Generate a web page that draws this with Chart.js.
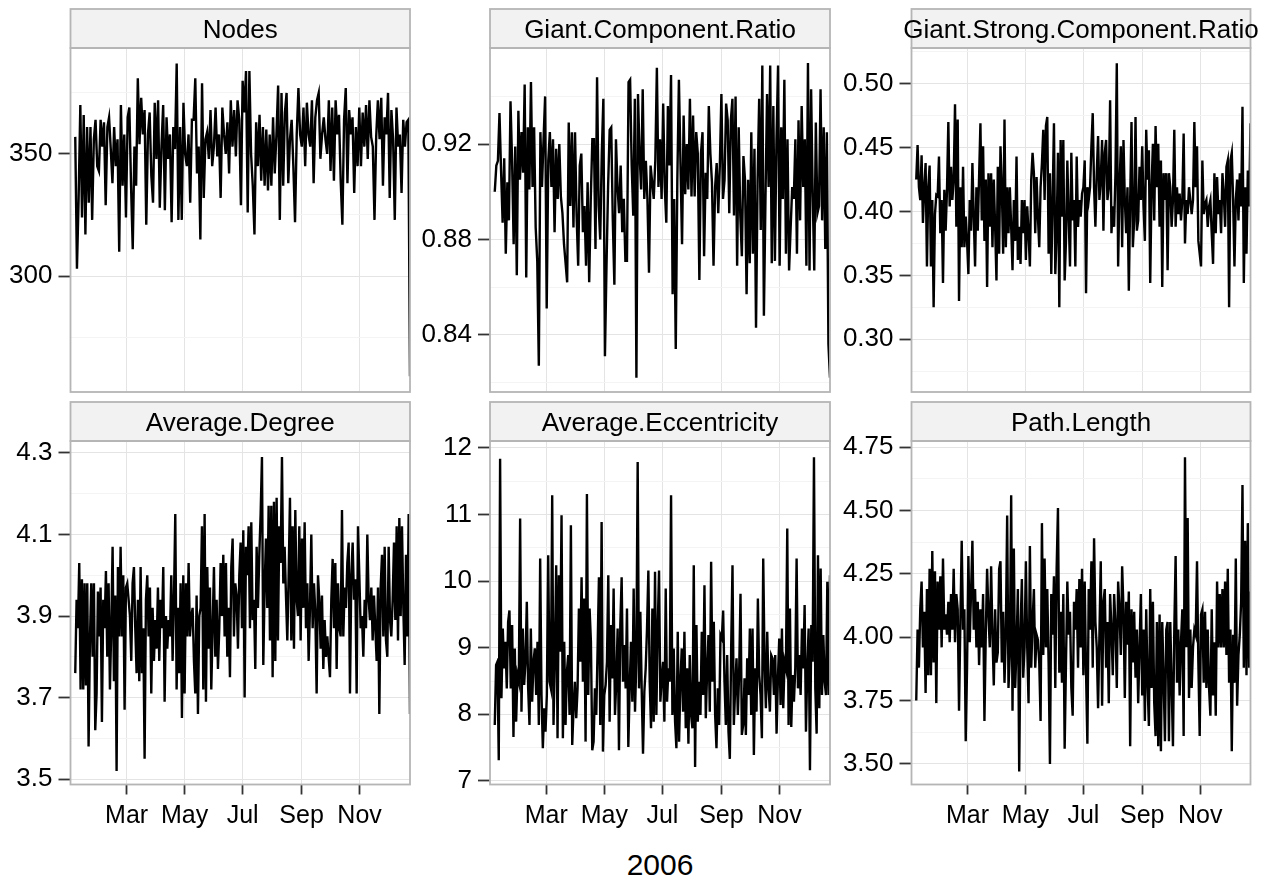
<!DOCTYPE html>
<html>
<head>
<meta charset="utf-8">
<title>Network statistics 2006</title>
<script src="https://cdn.jsdelivr.net/npm/chart.js@4.4.1/dist/chart.umd.min.js"></script>
<style>
  html, body { margin: 0; padding: 0; background: #fff; }
  #wrap { position: relative; width: 1286px; height: 881px; overflow: hidden; }
  #wrap canvas { position: absolute; }
  #xtitle { position: absolute; left: 560px; width: 200px; top: 847px; text-align: center;
            font: 30px "Liberation Sans", Arial, sans-serif; line-height: 36px; color: #000; }
</style>
</head>
<body>
<div id="wrap">
  <div id="xtitle">2006</div>
</div>
<script>
// x axis: day of year 2006, month ticks
const monthDays = [59, 120, 181, 243, 304];
const monthLabels = ["Mar", "May", "Jul", "Sep", "Nov"];
const firstDay = 5, lastDay = 357;

const nodes = [357, 303, 332, 370, 324, 366, 317, 361, 330, 361, 323, 356, 364, 345, 343, 364, 353, 363, 329, 361, 365, 352, 338, 361, 345, 356, 310, 370, 337, 358, 324, 365, 369, 337, 311, 353, 337, 381, 354, 373, 358, 368, 321, 358, 367, 341, 330, 371, 348, 372, 328, 353, 370, 327, 365, 348, 358, 322, 361, 352, 387, 323, 361, 323, 371, 350, 345, 358, 330, 364, 364, 381, 342, 353, 315, 379, 332, 356, 359, 348, 368, 345, 353, 369, 349, 358, 332, 369, 358, 350, 363, 342, 372, 353, 368, 349, 372, 364, 329, 380, 367, 384, 326, 384, 350, 337, 317, 363, 345, 366, 339, 361, 337, 360, 335, 358, 337, 365, 342, 358, 378, 323, 375, 337, 367, 375, 338, 356, 364, 345, 322, 358, 377, 358, 353, 369, 345, 371, 358, 353, 372, 338, 365, 372, 375, 348, 358, 365, 356, 350, 372, 343, 369, 339, 372, 358, 366, 339, 321, 364, 377, 338, 368, 358, 365, 334, 361, 345, 369, 345, 367, 353, 370, 348, 372, 357, 353, 323, 357, 372, 356, 373, 337, 365, 358, 375, 332, 368, 356, 323, 369, 353, 358, 334, 364, 353, 363, 364, 259];

const giantRatio = [0.900, 0.911, 0.913, 0.933, 0.909, 0.887, 0.914, 0.874, 0.904, 0.888, 0.938, 0.913, 0.878, 0.919, 0.865, 0.934, 0.905, 0.925, 0.908, 0.945, 0.864, 0.927, 0.901, 0.946, 0.902, 0.927, 0.885, 0.871, 0.827, 0.925, 0.902, 0.922, 0.940, 0.851, 0.913, 0.925, 0.902, 0.922, 0.883, 0.918, 0.897, 0.920, 0.898, 0.891, 0.878, 0.870, 0.862, 0.929, 0.894, 0.925, 0.885, 0.925, 0.890, 0.869, 0.911, 0.916, 0.883, 0.894, 0.869, 0.904, 0.862, 0.897, 0.922, 0.922, 0.876, 0.948, 0.894, 0.880, 0.916, 0.939, 0.831, 0.869, 0.902, 0.926, 0.927, 0.888, 0.861, 0.922, 0.902, 0.891, 0.911, 0.883, 0.897, 0.871, 0.871, 0.946, 0.947, 0.911, 0.890, 0.939, 0.822, 0.941, 0.916, 0.901, 0.943, 0.897, 0.913, 0.897, 0.866, 0.911, 0.904, 0.897, 0.913, 0.952, 0.902, 0.922, 0.897, 0.937, 0.902, 0.887, 0.936, 0.911, 0.949, 0.857, 0.897, 0.834, 0.905, 0.947, 0.912, 0.878, 0.932, 0.899, 0.920, 0.901, 0.939, 0.898, 0.932, 0.898, 0.925, 0.916, 0.863, 0.916, 0.925, 0.873, 0.908, 0.897, 0.936, 0.916, 0.904, 0.869, 0.902, 0.912, 0.891, 0.911, 0.941, 0.897, 0.905, 0.937, 0.930, 0.891, 0.930, 0.939, 0.890, 0.940, 0.869, 0.927, 0.890, 0.873, 0.915, 0.905, 0.857, 0.905, 0.870, 0.925, 0.874, 0.918, 0.843, 0.905, 0.939, 0.884, 0.953, 0.848, 0.897, 0.941, 0.902, 0.953, 0.870, 0.936, 0.871, 0.922, 0.953, 0.869, 0.927, 0.897, 0.947, 0.874, 0.922, 0.867, 0.885, 0.902, 0.897, 0.922, 0.874, 0.930, 0.888, 0.936, 0.902, 0.922, 0.869, 0.954, 0.867, 0.943, 0.899, 0.867, 0.929, 0.891, 0.894, 0.943, 0.888, 0.927, 0.876, 0.925, 0.836, 0.822];

const giantStrongRatio = [0.425, 0.452, 0.419, 0.409, 0.444, 0.391, 0.419, 0.438, 0.357, 0.419, 0.436, 0.357, 0.409, 0.325, 0.398, 0.413, 0.412, 0.443, 0.383, 0.409, 0.344, 0.417, 0.385, 0.417, 0.470, 0.404, 0.435, 0.409, 0.425, 0.484, 0.388, 0.472, 0.330, 0.419, 0.372, 0.435, 0.372, 0.396, 0.377, 0.351, 0.409, 0.385, 0.438, 0.396, 0.357, 0.419, 0.385, 0.427, 0.469, 0.393, 0.451, 0.377, 0.425, 0.341, 0.430, 0.388, 0.430, 0.372, 0.425, 0.388, 0.346, 0.435, 0.367, 0.451, 0.419, 0.367, 0.472, 0.372, 0.419, 0.383, 0.419, 0.388, 0.354, 0.409, 0.377, 0.443, 0.362, 0.388, 0.359, 0.409, 0.383, 0.409, 0.362, 0.404, 0.383, 0.357, 0.425, 0.446, 0.430, 0.383, 0.427, 0.396, 0.372, 0.419, 0.438, 0.464, 0.409, 0.467, 0.474, 0.367, 0.430, 0.351, 0.409, 0.469, 0.351, 0.383, 0.446, 0.325, 0.456, 0.396, 0.456, 0.346, 0.377, 0.440, 0.396, 0.357, 0.446, 0.393, 0.409, 0.357, 0.443, 0.388, 0.409, 0.396, 0.414, 0.419, 0.440, 0.336, 0.419, 0.409, 0.419, 0.451, 0.477, 0.419, 0.388, 0.430, 0.459, 0.409, 0.425, 0.456, 0.385, 0.446, 0.456, 0.409, 0.419, 0.487, 0.383, 0.404, 0.388, 0.430, 0.516, 0.357, 0.419, 0.451, 0.372, 0.456, 0.409, 0.383, 0.419, 0.338, 0.409, 0.470, 0.372, 0.393, 0.474, 0.385, 0.393, 0.435, 0.409, 0.451, 0.404, 0.377, 0.464, 0.425, 0.448, 0.344, 0.419, 0.453, 0.393, 0.467, 0.419, 0.453, 0.388, 0.440, 0.341, 0.430, 0.409, 0.430, 0.354, 0.430, 0.419, 0.388, 0.409, 0.464, 0.388, 0.419, 0.398, 0.414, 0.393, 0.409, 0.461, 0.375, 0.409, 0.398, 0.419, 0.409, 0.398, 0.409, 0.470, 0.419, 0.451, 0.377, 0.367, 0.357, 0.440, 0.398, 0.406, 0.409, 0.388, 0.404, 0.409, 0.383, 0.359, 0.430, 0.383, 0.427, 0.398, 0.409, 0.383, 0.430, 0.414, 0.388, 0.435, 0.440, 0.325, 0.440, 0.446, 0.409, 0.357, 0.409, 0.425, 0.393, 0.430, 0.404, 0.482, 0.344, 0.419, 0.367, 0.432, 0.404, 0.469];

const avgDegree = [3.76, 3.94, 3.87, 4.03, 3.72, 3.99, 3.72, 3.98, 3.73, 3.98, 3.58, 3.84, 3.98, 3.80, 3.98, 3.62, 3.71, 3.96, 3.85, 3.97, 3.64, 3.94, 3.87, 4.01, 3.80, 3.98, 3.72, 3.87, 4.07, 3.74, 3.95, 3.52, 4.02, 3.85, 4.07, 3.85, 4.00, 3.67, 3.97, 3.98, 3.94, 3.90, 3.79, 3.98, 4.02, 3.87, 3.76, 3.94, 3.74, 4.02, 3.76, 3.87, 3.55, 3.94, 4.00, 3.85, 3.97, 3.71, 3.92, 3.79, 3.89, 3.82, 3.97, 3.79, 3.94, 3.87, 4.02, 3.69, 3.90, 3.82, 3.89, 3.85, 4.00, 3.79, 3.94, 4.15, 3.72, 3.92, 3.76, 3.98, 3.65, 4.00, 3.71, 3.98, 3.85, 4.03, 3.85, 3.90, 3.92, 3.79, 3.71, 3.95, 3.66, 3.90, 3.92, 4.12, 3.72, 4.15, 3.69, 4.02, 3.82, 3.97, 3.72, 3.87, 4.02, 3.80, 3.94, 3.77, 3.87, 4.03, 3.90, 4.05, 3.85, 4.03, 3.80, 3.92, 3.75, 4.02, 4.09, 3.85, 3.98, 3.95, 3.82, 4.00, 4.08, 3.87, 4.11, 3.70, 4.07, 4.00, 4.12, 3.87, 4.13, 3.89, 3.94, 3.77, 4.07, 3.92, 4.05, 4.15, 4.29, 3.78, 3.97, 4.09, 3.92, 4.17, 3.84, 4.17, 3.75, 4.18, 3.79, 4.19, 3.84, 4.12, 4.03, 4.29, 3.98, 4.07, 3.95, 3.84, 4.00, 4.19, 3.84, 4.12, 3.82, 4.16, 3.94, 3.90, 4.12, 3.84, 4.09, 3.92, 4.13, 3.87, 3.98, 3.79, 3.92, 4.10, 3.87, 3.98, 3.91, 3.71, 4.00, 3.94, 3.82, 3.95, 3.77, 3.89, 3.80, 3.85, 3.80, 3.75, 3.94, 4.04, 3.87, 4.03, 3.77, 3.98, 3.87, 3.85, 4.16, 3.85, 3.97, 3.92, 4.03, 4.08, 3.71, 4.00, 4.08, 3.94, 3.99, 3.71, 4.12, 4.00, 3.87, 3.90, 3.80, 3.94, 3.87, 4.10, 3.94, 3.89, 3.97, 3.84, 3.95, 3.87, 3.79, 3.97, 3.66, 3.97, 4.05, 3.85, 4.07, 3.84, 3.80, 4.07, 3.89, 3.85, 3.94, 4.08, 3.89, 4.12, 3.84, 4.14, 3.90, 4.12, 3.92, 3.78, 4.05, 3.85, 4.15, 3.66];

const avgEccentricity = [7.84, 8.74, 8.79, 7.31, 11.84, 8.24, 9.29, 8.69, 9.09, 8.39, 9.39, 9.56, 8.39, 9.34, 7.66, 8.99, 7.89, 8.59, 8.49, 10.94, 8.04, 9.29, 8.44, 8.79, 9.69, 8.39, 7.84, 9.29, 8.19, 8.79, 8.99, 8.29, 9.09, 7.84, 10.34, 8.29, 7.49, 8.09, 7.74, 8.29, 10.39, 8.49, 8.39, 11.29, 7.84, 8.89, 10.24, 7.64, 10.09, 8.94, 10.99, 7.64, 9.09, 7.84, 8.64, 8.89, 7.99, 10.84, 7.54, 8.09, 8.49, 7.94, 8.39, 9.59, 8.79, 10.06, 8.49, 9.74, 7.59, 11.31, 8.29, 9.59, 9.09, 7.46, 7.59, 8.39, 7.99, 8.99, 10.06, 7.84, 10.89, 7.44, 8.29, 8.44, 8.79, 10.09, 7.89, 9.34, 8.54, 9.89, 7.99, 8.49, 9.29, 7.46, 9.34, 10.06, 8.49, 9.04, 8.39, 9.59, 7.51, 8.39, 9.09, 8.19, 9.89, 8.04, 8.79, 11.79, 8.39, 9.54, 8.39, 7.41, 8.34, 8.69, 9.29, 10.16, 8.49, 7.79, 9.59, 7.89, 10.14, 7.99, 9.29, 10.16, 8.19, 8.54, 8.79, 7.89, 9.89, 8.19, 8.69, 8.49, 11.29, 7.99, 8.99, 7.89, 7.49, 9.24, 7.59, 8.49, 8.99, 8.04, 9.24, 7.79, 8.69, 7.56, 8.89, 7.99, 7.79, 10.24, 7.21, 9.34, 7.89, 8.49, 7.99, 9.24, 8.29, 9.94, 7.94, 8.64, 9.19, 8.04, 10.29, 8.49, 9.39, 7.99, 7.49, 8.39, 7.84, 9.19, 9.14, 9.56, 8.49, 7.84, 8.89, 7.74, 7.33, 8.99, 10.24, 7.84, 8.39, 8.84, 7.99, 8.64, 9.81, 7.69, 7.84, 8.54, 7.69, 8.84, 8.29, 9.29, 7.99, 9.29, 7.39, 8.69, 8.04, 9.74, 8.59, 8.29, 7.64, 10.34, 8.79, 8.09, 9.24, 8.39, 8.04, 8.89, 8.84, 8.29, 8.89, 7.71, 8.54, 9.14, 8.14, 9.29, 8.09, 8.79, 8.69, 10.79, 7.84, 9.59, 7.81, 8.59, 8.19, 8.69, 10.34, 8.39, 8.89, 8.29, 9.29, 8.69, 9.64, 7.74, 8.69, 9.29, 7.16, 9.34, 8.79, 11.86, 8.39, 7.71, 10.39, 8.09, 10.19, 8.29, 9.19, 8.49, 8.29, 9.99, 8.29, 10.09];

const pathLength = [3.75, 4.03, 3.88, 4.11, 4.22, 3.96, 4.10, 3.78, 4.19, 3.85, 4.27, 3.85, 4.34, 3.90, 4.26, 3.74, 4.22, 4.03, 4.24, 3.96, 4.31, 4.03, 4.09, 4.01, 4.14, 3.98, 4.17, 4.03, 4.27, 3.98, 4.17, 4.11, 3.71, 4.06, 4.38, 4.03, 4.11, 3.59, 3.88, 4.32, 3.98, 4.18, 4.38, 4.03, 4.19, 3.96, 4.14, 3.89, 4.11, 3.96, 4.17, 3.67, 4.01, 4.27, 4.09, 3.96, 4.28, 4.01, 3.81, 4.11, 3.90, 3.94, 4.27, 4.30, 3.90, 4.10, 3.82, 4.01, 4.48, 3.80, 3.93, 4.56, 3.71, 4.35, 3.80, 3.96, 4.19, 3.47, 4.03, 4.23, 3.84, 3.96, 4.30, 3.96, 3.74, 4.36, 3.88, 4.06, 4.19, 3.88, 4.01, 3.99, 3.90, 3.67, 4.45, 3.93, 4.31, 3.96, 4.19, 3.90, 3.50, 4.17, 4.01, 4.24, 3.80, 4.27, 4.51, 3.86, 4.10, 3.82, 4.17, 3.56, 3.90, 4.22, 4.01, 4.10, 3.80, 3.69, 4.14, 4.03, 4.19, 3.88, 4.23, 3.96, 4.27, 3.85, 4.22, 3.86, 3.58, 4.19, 4.03, 4.30, 3.88, 4.39, 4.06, 3.96, 3.72, 4.01, 4.30, 3.73, 4.14, 4.19, 3.88, 4.06, 3.74, 4.17, 4.03, 3.85, 4.17, 4.05, 3.80, 4.22, 4.11, 3.93, 4.28, 4.11, 3.76, 4.14, 3.97, 4.18, 3.57, 4.11, 3.90, 4.10, 3.84, 4.03, 3.74, 3.96, 4.17, 3.77, 4.03, 3.67, 4.11, 3.82, 3.65, 4.19, 3.80, 4.14, 3.74, 3.61, 4.06, 3.57, 4.09, 3.55, 4.06, 3.84, 3.59, 4.03, 4.06, 3.59, 4.06, 3.82, 3.57, 4.03, 4.32, 3.82, 4.03, 3.77, 3.98, 4.11, 3.61, 4.71, 3.96, 4.47, 3.76, 4.03, 3.80, 3.96, 4.03, 4.01, 4.30, 3.90, 3.61, 4.09, 4.11, 3.82, 4.10, 3.80, 4.03, 3.80, 3.69, 4.11, 3.77, 3.98, 3.69, 4.22, 3.96, 4.17, 3.96, 4.19, 3.96, 4.22, 3.93, 4.27, 3.82, 4.03, 3.55, 4.01, 3.82, 4.31, 3.73, 3.93, 4.01, 4.14, 4.60, 3.88, 4.38, 3.85, 4.45, 3.88, 4.18];

const titles = ["Nodes", "Giant.Component.Ratio", "Giant.Strong.Component.Ratio",
                "Average.Degree", "Average.Eccentricity", "Path.Length"];
const seriesList = [nodes, giantRatio, giantStrongRatio, avgDegree, avgEccentricity, pathLength];
const majorTicks = [[300, 350], [0.84, 0.88, 0.92], [0.30, 0.35, 0.40, 0.45, 0.50],
                    [3.5, 3.7, 3.9, 4.1, 4.3], [7, 8, 9, 10, 11, 12], [3.5, 3.75, 4.0, 4.25, 4.5, 4.75]];
const minorTicks = [[275, 325, 375], [0.82, 0.86, 0.90, 0.94], [0.275, 0.325, 0.375, 0.425, 0.475, 0.525],
                    [3.6, 3.8, 4.0, 4.2], [7.5, 8.5, 9.5, 10.5, 11.5], [3.625, 3.875, 4.125, 4.375, 4.625]];
const tickDigits = [0, 2, 2, 1, 0, 2];
const yLimits = [[252.5, 393.4], [0.816, 0.9603], [0.2587, 0.528], [3.487, 4.329], [6.946, 12.105], [3.419, 4.774]];

// panel geometry
const cols = [
  { left: 0, width: 420, plotLeft: 70.5, plotRight: 410 },
  { left: 420, width: 420, plotLeft: 70, plotRight: 410 },
  { left: 840, width: 446, plotLeft: 71.5, plotRight: 410.5 }
];
const rows = [
  { top: 0, height: 396, stripTop: 9, plotTop: 48, plotBottom: 392, axisH: 0 },
  { top: 396, height: 485, stripTop: 6, plotTop: 45, plotBottom: 388.5, axisH: 52 }
];

const FONT = '"Liberation Sans", Arial, Helvetica, sans-serif';

const stripPlugin = {
  id: "strip",
  afterDraw(chart, args, opts) {
    const { ctx, chartArea: a } = chart;
    ctx.save();
    ctx.fillStyle = "#f2f2f2";
    ctx.fillRect(a.left, opts.top, a.right - a.left, a.top - opts.top);
    ctx.strokeStyle = "#b5b5b5";
    ctx.lineWidth = 1.8;
    ctx.strokeRect(a.left, opts.top, a.right - a.left, a.top - opts.top);
    ctx.strokeRect(a.left, a.top, a.right - a.left, a.bottom - a.top);
    ctx.fillStyle = "#000";
    ctx.font = "26px " + FONT;
    ctx.textAlign = "center";
    ctx.textBaseline = "alphabetic";
    ctx.fillText(opts.text, (a.left + a.right) / 2, opts.top + 28.5);
    ctx.restore();
  }
};

const wrap = document.getElementById("wrap");

seriesList.forEach((values, i) => {
  const col = cols[i % 3], row = rows[Math.floor(i / 3)];
  const canvas = document.createElement("canvas");
  canvas.width = col.width;
  canvas.height = row.height;
  canvas.style.left = col.left + "px";
  canvas.style.top = row.top + "px";
  wrap.appendChild(canvas);

  const step = (lastDay - firstDay) / (values.length - 1);
  const points = values.map((v, k) => ({ x: firstDay + k * step, y: v }));
  const major = majorTicks[i];
  const yTicks = major.concat(minorTicks[i]).sort((p, q) => p - q);
  const isMajor = v => major.some(m => Math.abs(m - v) < 1e-9);
  const showX = row.axisH > 0;

  new Chart(canvas, {
    type: "line",
    data: {
      datasets: [{
        data: points,
        borderColor: "#000",
        borderWidth: 2.4,
        pointRadius: 0,
        tension: 0,
        fill: false
      }]
    },
    options: {
      responsive: false,
      animation: false,
      devicePixelRatio: 1,
      layout: {
        autoPadding: false,
        padding: { left: 0, top: row.plotTop, right: col.width - col.plotRight,
                   bottom: row.height - row.plotBottom - row.axisH }
      },
      plugins: {
        legend: { display: false },
        tooltip: { enabled: false },
        strip: { text: titles[i], top: row.stripTop }
      },
      scales: {
        x: {
          type: "linear",
          min: 0,
          max: 357,
          border: { display: false },
          afterBuildTicks: s => { s.ticks = monthDays.map(v => ({ value: v })); },
          afterFit: s => { s.height = row.axisH; s.paddingLeft = 0; s.paddingRight = 0; },
          ticks: {
            display: showX,
            autoSkip: false,
            maxRotation: 0,
            padding: 7,
            color: "#000",
            font: { size: 25, family: FONT },
            callback: v => monthLabels[monthDays.indexOf(v)]
          },
          grid: { color: "#e4e4e4", lineWidth: 1, drawTicks: showX, tickLength: 10,
                  tickColor: "#333", tickWidth: 1.8 }
        },
        y: {
          min: yLimits[i][0],
          max: yLimits[i][1],
          border: { display: false },
          afterBuildTicks: s => { s.ticks = yTicks.map(v => ({ value: v })); },
          afterFit: s => { s.width = col.plotLeft; s.paddingTop = 0; s.paddingBottom = 0; },
          ticks: {
            autoSkip: false,
            padding: 6,
            color: "#000",
            font: { size: 26, family: FONT },
            callback: v => isMajor(v) ? v.toFixed(tickDigits[i]) : ""
          },
          grid: {
            color: c => (c.tick && isMajor(c.tick.value)) ? "#e4e4e4" : "#f4f4f4",
            lineWidth: 1,
            tickLength: 12,
            tickWidth: 1.8,
            tickColor: c => (c.tick && isMajor(c.tick.value)) ? "#333" : "rgba(0,0,0,0)"
          }
        }
      }
    },
    plugins: [stripPlugin]
  });
});
</script>
</body>
</html>
